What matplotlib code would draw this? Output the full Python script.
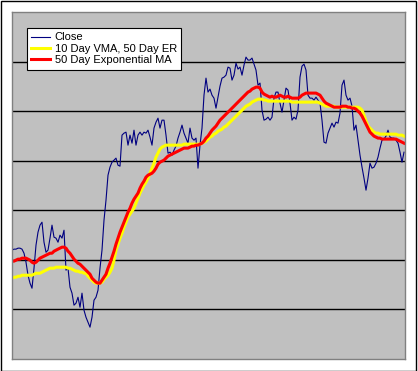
import numpy as np
import matplotlib
matplotlib.use("Agg")
import matplotlib.pyplot as plt
from matplotlib.patches import Rectangle

# daily closes
close = [
    30.98, 31.08, 31.08, 31.18, 31.18, 31.08, 30.67, 29.76, 28.45, 27.65,
    27.14, 29.16, 31.48, 32.79, 33.50, 33.80, 31.78, 30.77, 30.98, 32.19,
    33.50, 32.29, 32.19, 31.78, 32.49, 32.19, 32.99, 28.96, 29.16, 27.24,
    26.64, 25.43, 25.63, 26.23, 25.22, 26.64, 24.92, 24.21, 23.71, 23.21,
    24.21, 25.93, 26.23, 26.94, 29.16, 30.98, 34.00, 36.02, 38.54, 39.35,
    39.85, 40.06, 40.26, 39.55, 39.45, 42.58, 42.78, 42.88, 41.57, 42.58,
    41.77, 43.08, 41.57, 42.58, 42.88, 42.58, 42.88, 42.78, 43.08, 42.38,
    41.57, 43.29, 43.89, 44.29, 43.29, 44.09, 44.09, 42.58, 40.76, 40.86,
    40.56, 41.07, 41.47, 42.28, 42.88, 43.59, 42.78, 42.28, 41.77, 43.29,
    42.28, 42.07, 42.28, 39.25, 41.57, 43.29, 46.61, 48.33, 46.92, 47.22,
    46.61, 46.31, 45.30, 46.41, 47.52, 48.33, 48.43, 48.63, 49.44, 49.34,
    48.13, 48.63, 49.84, 49.24, 49.44, 48.63, 49.64, 50.45, 50.15, 50.15,
    50.35, 49.74, 49.14, 47.62, 47.83, 45.10, 44.09, 44.19, 44.39, 44.09,
    44.39, 46.31, 46.92, 46.92, 45.81, 44.90, 46.11, 47.32, 47.12, 45.81,
    44.09, 44.39, 44.19, 45.10, 48.43, 49.54, 49.74, 49.14, 46.61, 46.31,
    46.31, 46.11, 46.41, 46.11, 45.81, 44.09, 41.87, 41.77, 42.78, 43.29,
    43.79, 43.39, 43.89, 43.79, 44.80, 47.62, 48.13, 46.61, 46.11, 46.31,
    45.50, 43.08, 43.59, 42.07, 40.56, 39.35, 38.24, 37.03, 38.24, 39.75,
    39.25, 39.35, 39.75, 40.36, 41.27, 42.07, 42.18, 42.48, 43.08, 42.38,
    42.28, 42.28, 42.07, 41.77, 40.86, 39.85, 40.86,
]

# 10 day VMA, 50 day ER
vma = [
    28.15, 28.25, 28.25, 28.35, 28.35, 28.45, 28.45, 28.45, 28.45, 28.45,
    28.45, 28.55, 28.65, 28.65, 28.65, 28.76, 28.86, 28.96, 29.06, 29.16,
    29.16, 29.16, 29.26, 29.26, 29.26, 29.26, 29.26, 29.26, 29.16, 29.16,
    29.06, 28.96, 28.86, 28.86, 28.76, 28.76, 28.65, 28.65, 28.35, 28.15,
    27.95, 27.75, 27.65, 27.65, 27.65, 27.75, 28.05, 28.25, 28.45, 28.76,
    29.16, 29.97, 30.98, 31.58, 32.19, 32.69, 33.30, 33.80, 34.31, 34.61,
    34.91, 35.21, 35.72, 36.22, 36.73, 37.13, 37.53, 37.84, 38.24, 38.74,
    39.25, 39.75, 40.36, 40.76, 41.17, 41.37, 41.47, 41.57, 41.57, 41.57,
    41.57, 41.57, 41.57, 41.57, 41.57, 41.57, 41.67, 41.67, 41.67, 41.67,
    41.67, 41.67, 41.67, 41.67, 41.67, 41.77, 41.87, 41.97, 42.18, 42.38,
    42.48, 42.68, 42.78, 42.98, 43.08, 43.18, 43.39, 43.49, 43.69, 43.89,
    44.09, 44.29, 44.50, 44.70, 44.90, 45.10, 45.30, 45.50, 45.61, 45.71,
    45.91, 46.01, 46.11, 46.21, 46.21, 46.21, 46.11, 46.11, 46.01, 46.01,
    46.01, 46.01, 46.01, 46.01, 46.01, 46.01, 46.01, 46.01, 46.01, 46.01,
    45.91, 45.91, 45.91, 45.91, 45.91, 45.91, 45.91, 45.91, 45.91, 45.91,
    45.91, 45.91, 45.91, 45.91, 45.81, 45.71, 45.61, 45.50, 45.50, 45.50,
    45.50, 45.50, 45.40, 45.40, 45.40, 45.40, 45.40, 45.40, 45.40, 45.40,
    45.40, 45.40, 45.40, 45.40, 45.30, 45.10, 44.60, 43.99, 43.49, 43.29,
    43.08, 42.88, 42.78, 42.78, 42.68, 42.68, 42.68, 42.68, 42.68, 42.68,
    42.68, 42.68, 42.68, 42.58, 42.58, 42.58, 42.48,
]

# 50 day exponential MA
ema = [
    29.87, 29.87, 29.97, 30.07, 30.07, 30.17, 30.17, 30.17, 30.07, 29.97,
    29.76, 29.66, 29.76, 29.97, 30.17, 30.27, 30.37, 30.47, 30.57, 30.67,
    30.67, 30.87, 30.98, 31.08, 31.18, 31.28, 31.28, 31.18, 30.87, 30.67,
    30.37, 30.07, 29.87, 29.66, 29.56, 29.36, 29.16, 28.96, 28.76, 28.55,
    28.15, 27.95, 27.75, 27.65, 27.65, 27.95, 28.25, 28.55, 29.16, 29.66,
    30.27, 30.87, 31.58, 32.19, 32.79, 33.30, 33.80, 34.31, 34.81, 35.21,
    35.72, 36.12, 36.42, 36.73, 37.23, 37.63, 37.94, 38.34, 38.54, 38.64,
    38.74, 38.95, 39.25, 39.65, 39.85, 39.96, 40.06, 40.26, 40.46, 40.56,
    40.66, 40.76, 40.86, 40.96, 41.07, 41.17, 41.27, 41.27, 41.27, 41.37,
    41.47, 41.47, 41.57, 41.57, 41.67, 41.77, 41.97, 42.28, 42.48, 42.78,
    43.08, 43.29, 43.49, 43.79, 44.09, 44.29, 44.50, 44.70, 44.90, 45.10,
    45.30, 45.50, 45.71, 45.91, 46.11, 46.31, 46.51, 46.72, 46.92, 47.02,
    47.22, 47.32, 47.42, 47.42, 47.32, 46.92, 46.72, 46.61, 46.51, 46.41,
    46.51, 46.41, 46.41, 46.51, 46.61, 46.51, 46.41, 46.41, 46.51, 46.41,
    46.31, 46.31, 46.31, 46.31, 46.41, 46.61, 46.72, 46.82, 46.82, 46.82,
    46.82, 46.82, 46.82, 46.72, 46.61, 46.31, 46.01, 45.81, 45.71, 45.61,
    45.50, 45.40, 45.40, 45.40, 45.40, 45.50, 45.50, 45.50, 45.40, 45.40,
    45.30, 45.30, 45.20, 45.00, 44.80, 44.50, 44.09, 43.69, 43.29, 42.88,
    42.68, 42.48, 42.38, 42.28, 42.28, 42.18, 42.18, 42.18, 42.18, 42.18,
    42.18, 42.18, 42.18, 42.07, 41.97, 41.87, 41.77,
]

labels = ["Close", "10 Day VMA, 50 Day ER", "50 Day Exponential MA"]
grid_levels = [25, 30, 35, 40, 45, 50]

W, H = 418, 371
fig = plt.figure(figsize=(W / 100, H / 100), dpi=100)
fig.patch.set_facecolor("white")
ax = fig.add_axes([12 / W, (H - 359) / H, 393 / W, 347 / H])
ax.set_facecolor("#C0C0C0")

days = np.arange(len(close))
ax.plot(days, close, color="#000080", lw=0.8, label=labels[0])
ax.plot(np.arange(len(vma)), vma, color="#FFFF00", lw=2.2, label=labels[1])
ax.plot(np.arange(len(ema)), ema, color="#FF0000", lw=2.2, label=labels[2])

ax.set_xlim(0, 196.5)
ax.set_ylim(20, 55)
ax.set_yticks(grid_levels)
ax.set_xticks([])
ax.grid(axis="y", color="black", lw=1.0)
ax.set_axisbelow(True)
ax.tick_params(left=False, labelleft=False)
for s in ax.spines.values():
    s.set_color("#808080")
    s.set_linewidth(1.0)

leg = ax.legend(loc="upper left", bbox_to_anchor=(27 / W, 1 - 28 / H),
                bbox_transform=fig.transFigure, borderaxespad=0,
                fancybox=False, framealpha=1, edgecolor="black",
                prop={"family": "Liberation Sans", "size": 8},
                handlelength=1.7, handletextpad=0.4, labelspacing=0.12,
                borderpad=0.4)
leg.get_frame().set_linewidth(0.8)

# outer chart border
fig.patches.append(Rectangle((0.5 / W, 0.5 / H), (W - 2.5) / W, (H - 1.5) / H,
                             transform=fig.transFigure, fill=False,
                             edgecolor="black", lw=1.0))

fig.savefig("out.png", dpi=100)
